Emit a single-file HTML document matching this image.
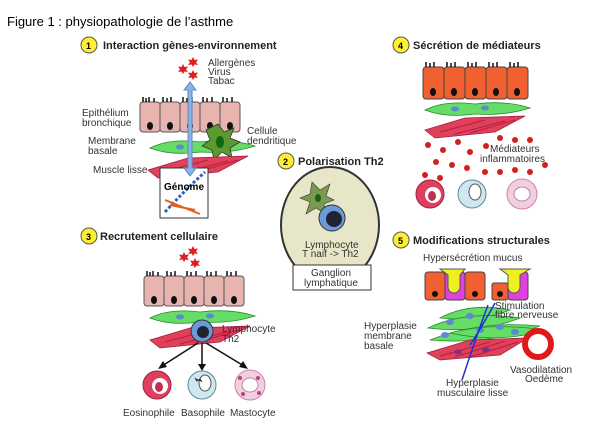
<!DOCTYPE html>
<html><head><meta charset="utf-8"><style>
html,body{margin:0;padding:0;background:#fff;width:601px;height:425px;overflow:hidden;}
svg{display:block;font-family:"Liberation Sans",sans-serif;}
.t{font-size:10px;fill:#333;}
.b{font-size:11px;font-weight:bold;fill:#222;}
</style></head><body>
<svg width="601" height="425" viewBox="0 0 601 425" xmlns="http://www.w3.org/2000/svg">
<defs>
<g id="star"><polygon points="0,-5 1.5,-2 5,-2.5 3,0.5 5,3 1.5,2.5 0,5 -1.5,2.5 -5,3 -3,0.5 -5,-2.5 -1.5,-2" fill="#e02020"/></g>
<g id="epi">
 <g fill="#e8b4b0" stroke="#555" stroke-width="1">
  <rect x="0" y="0" width="20" height="30" rx="3"/><rect x="20" y="0" width="20" height="30" rx="3"/><rect x="40" y="0" width="20" height="30" rx="3"/><rect x="60" y="0" width="20" height="30" rx="3"/><rect x="80" y="0" width="20" height="30" rx="3"/>
 </g>
 <g fill="#111"><ellipse cx="10" cy="24" rx="3" ry="4"/><ellipse cx="30" cy="24" rx="3" ry="4"/><ellipse cx="50" cy="24" rx="3" ry="4"/><ellipse cx="70" cy="24" rx="3" ry="4"/><ellipse cx="90" cy="24" rx="3" ry="4"/></g>
 <g stroke="#111" stroke-width="1.5"><path d="M3 0v-5M6 0v-4M9 0v-5M14 0v-4M23 0v-5M27 0v-4M31 0v-5M43 0v-5M47 0v-4M52 0v-5M63 0v-5M67 0v-4M72 0v-5M83 0v-5M87 0v-4M92 0v-5"/></g>
</g>
<g id="green"><path d="M0 8 Q20 -2 50 2 Q80 -2 105 6 Q80 14 50 12 Q20 16 0 8Z" fill="#66dd66" stroke="#2a8a2a" stroke-width="0.8"/><ellipse cx="30" cy="7" rx="4" ry="2.5" fill="#5a8ad0"/><ellipse cx="60" cy="6" rx="4" ry="2.5" fill="#5a8ad0"/></g>
<g id="red"><path d="M0 14 L40 2 L100 0 L70 16 L10 22Z" fill="#e0405a" stroke="#a02040" stroke-width="0.8"/><path d="M15 16 L60 4 M30 18 L80 5 M45 17 L90 4" stroke="#b02040"/></g>
</defs>

<text x="7" y="26" style="font-size:13px;fill:#000">Figure 1 : physiopathologie de l’asthme</text>

<!-- Panel 1 -->
<circle cx="89" cy="45" r="8" fill="#ffef30" stroke="#555"/><text x="86" y="49" style="font-size:9px;font-weight:bold">1</text>
<text x="103" y="49" class="b">Interaction gènes-environnement</text>
<use href="#star" x="183" y="69"/><use href="#star" x="193" y="62"/><use href="#star" x="193" y="75"/>
<text x="208" y="66" class="t">Allergènes</text><text x="208" y="75" class="t">Virus</text><text x="208" y="84" class="t">Tabac</text>
<use href="#epi" x="140" y="102"/>
<use href="#green" x="150" y="140"/>
<polygon points="218,124 224,132 234,128 230,138 240,142 230,148 232,158 222,152 214,160 212,150 202,146 210,140 206,130" fill="#5a9a30" stroke="#333" stroke-width="0.8"/>
<ellipse cx="220" cy="142" rx="4" ry="6" fill="#116611"/>
<use href="#red" x="148" y="156"/>
<rect x="160" y="168" width="48" height="50" fill="#fff" stroke="#333"/>
<path d="M165 212 Q185 190 205 172" stroke="#3060c0" stroke-width="3" fill="none" stroke-dasharray="3 2"/>
<path d="M165 200 L200 214 M170 205 L195 210" stroke="#e06020" stroke-width="2"/>
<text x="164" y="190" style="font-size:10px;font-weight:bold">Génome</text>
<path d="M190 82 l-6 8 h4 v78 h-4 l6 8 l6 -8 h-4 v-78 h4z" fill="#8ab4e8" stroke="#5a8ac0"/>
<text x="82" y="116" class="t">Epithélium</text><text x="82" y="126" class="t">bronchique</text>
<text x="88" y="144" class="t">Membrane</text><text x="88" y="154" class="t">basale</text>
<text x="93" y="173" class="t">Muscle lisse</text>
<text x="247" y="134" class="t">Cellule</text><text x="247" y="144" class="t">dendritique</text>

<!-- Panel 2 -->
<circle cx="286" cy="161" r="8" fill="#ffef30" stroke="#555"/><text x="283" y="165" style="font-size:9px;font-weight:bold">2</text>
<text x="298" y="165" class="b">Polarisation Th2</text>
<ellipse cx="330" cy="225" rx="49" ry="58" fill="#e8e6c8" stroke="#333" stroke-width="2"/>
<polygon points="312,182 320,190 330,184 326,196 334,200 324,204 326,214 316,208 306,214 310,202 300,198 310,194" fill="#7a9a50" stroke="#333" stroke-width="0.6"/>
<ellipse cx="318" cy="198" rx="3" ry="4" fill="#116611"/>
<circle cx="332" cy="218" r="13" fill="#6a9ad8" stroke="#333"/><circle cx="334" cy="219" r="8" fill="#223"/>
<text x="305" y="248" class="t">Lymphocyte</text><text x="302" y="257" class="t">T naif -&gt; Th2</text>
<rect x="293" y="265" width="78" height="25" fill="#fff" stroke="#333"/>
<text x="311" y="276" class="t">Ganglion</text><text x="304" y="286" class="t">lymphatique</text>

<!-- Panel 3 -->
<circle cx="89" cy="236" r="8" fill="#ffef30" stroke="#555"/><text x="86" y="240" style="font-size:9px;font-weight:bold">3</text>
<text x="100" y="240" class="b">Recrutement cellulaire</text>
<use href="#star" x="184" y="257"/><use href="#star" x="193" y="251"/><use href="#star" x="195" y="263"/>
<use href="#epi" x="144" y="276"/>
<use href="#green" x="150" y="310"/>
<use href="#red" x="150" y="326"/>
<circle cx="202" cy="331" r="11" fill="#6a9ad8" stroke="#333"/><circle cx="203" cy="332" r="6" fill="#223"/>
<text x="222" y="332" class="t">Lymphocyte</text><text x="222" y="342" class="t">Th2</text>
<g stroke="#111" stroke-width="1.5"><path d="M198 343 L162 366 M202 343 L202 366 M206 343 L244 366"/></g>
<g fill="#111"><polygon points="158,369 163,361 167,367"/><polygon points="198,364 206,364 202,371"/><polygon points="248,369 239,367 243,361"/></g>
<circle cx="157" cy="385" r="14" fill="#e04060" stroke="#a02040"/><circle cx="160" cy="386" r="8" fill="#fff"/><ellipse cx="159" cy="387" rx="4" ry="5" fill="#c03050"/>
<circle cx="202" cy="385" r="14" fill="#cfe8f0" stroke="#5a8a9a"/><ellipse cx="205" cy="383" rx="6" ry="8" fill="#fff" stroke="#555"/><path d="M195 378 l2 3 l3 -2 l2 3" stroke="#333"/>
<circle cx="250" cy="385" r="15" fill="#f0d0e0" stroke="#d080a8"/><ellipse cx="250" cy="385" rx="8" ry="7" fill="#fff" stroke="#c080a0"/><g fill="#c04080"><circle cx="240" cy="378" r="2"/><circle cx="258" cy="378" r="2"/><circle cx="243" cy="394" r="2"/><circle cx="259" cy="393" r="2"/></g>
<text x="123" y="416" class="t">Eosinophile</text><text x="181" y="416" class="t">Basophile</text><text x="230" y="416" class="t">Mastocyte</text>

<!-- Panel 4 -->
<circle cx="401" cy="45" r="8" fill="#ffef30" stroke="#555"/><text x="398" y="49" style="font-size:9px;font-weight:bold">4</text>
<text x="413" y="49" class="b">Sécrétion de médiateurs</text>
<g fill="#f06030" stroke="#444"><rect x="423" y="67" width="21" height="32" rx="3"/><rect x="444" y="67" width="21" height="32" rx="3"/><rect x="465" y="67" width="21" height="32" rx="3"/><rect x="486" y="67" width="21" height="32" rx="3"/><rect x="507" y="67" width="21" height="32" rx="3"/></g>
<g fill="#111"><ellipse cx="433" cy="92" rx="3" ry="4"/><ellipse cx="454" cy="92" rx="3" ry="4"/><ellipse cx="475" cy="92" rx="3" ry="4"/><ellipse cx="496" cy="92" rx="3" ry="4"/><ellipse cx="517" cy="92" rx="3" ry="4"/></g>
<g stroke="#111" stroke-width="1.5"><path d="M426 67v-5M430 67v-4M434 67v-5M447 67v-5M451 67v-4M455 67v-5M468 67v-5M472 67v-4M476 67v-5M489 67v-5M493 67v-4M497 67v-5M510 67v-5M514 67v-4M518 67v-5"/></g>
<use href="#green" x="425" y="102"/>
<use href="#red" x="425" y="116"/>
<g fill="#d02020"><circle cx="428" cy="145" r="3"/><circle cx="443" cy="150" r="3"/><circle cx="458" cy="142" r="3"/><circle cx="470" cy="152" r="3"/><circle cx="436" cy="162" r="3"/><circle cx="452" cy="165" r="3"/><circle cx="467" cy="168" r="3"/><circle cx="486" cy="146" r="3"/><circle cx="500" cy="138" r="3"/><circle cx="515" cy="140" r="3"/><circle cx="425" cy="175" r="3"/><circle cx="485" cy="172" r="3"/><circle cx="500" cy="172" r="3"/><circle cx="515" cy="170" r="3"/><circle cx="530" cy="172" r="3"/><circle cx="545" cy="165" r="3"/><circle cx="440" cy="178" r="3"/><circle cx="530" cy="140" r="3"/></g>
<text x="490" y="152" class="t">Médiateurs</text><text x="480" y="162" class="t">inflammatoires</text>
<circle cx="430" cy="194" r="14" fill="#e04060" stroke="#a02040"/><circle cx="433" cy="195" r="8" fill="#fff"/><ellipse cx="432" cy="196" rx="4" ry="5" fill="#c03050"/>
<circle cx="472" cy="194" r="14" fill="#cfe8f0" stroke="#5a8a9a"/><ellipse cx="475" cy="192" rx="6" ry="8" fill="#fff" stroke="#555"/>
<circle cx="522" cy="194" r="15" fill="#f0d0e0" stroke="#d080a8"/><ellipse cx="522" cy="194" rx="8" ry="7" fill="#fff" stroke="#c080a0"/>

<!-- Panel 5 -->
<circle cx="401" cy="240" r="8" fill="#ffef30" stroke="#555"/><text x="398" y="244" style="font-size:9px;font-weight:bold">5</text>
<text x="413" y="244" class="b">Modifications structurales</text>
<text x="423" y="261" class="t">Hypersécrétion mucus</text>
<g stroke="#444"><rect x="425" y="272" width="20" height="28" rx="3" fill="#f06030"/><rect x="445" y="272" width="20" height="28" rx="3" fill="#e040e0"/><rect x="465" y="272" width="20" height="28" rx="3" fill="#f06030"/><rect x="492" y="283" width="16" height="17" rx="2" fill="#f06030"/><rect x="508" y="272" width="20" height="28" rx="3" fill="#e040e0"/></g>
<path d="M440 269 h25 l-5 6 v12 a6 6 0 0 1 -12 0 v-12z" fill="#f0f020" stroke="#555"/>
<path d="M500 269 h30 l-10 6 v12 a6 6 0 0 1 -12 0 v-12z" fill="#f0f020" stroke="#555"/>
<g fill="#111"><circle cx="435" cy="294" r="3"/><circle cx="475" cy="294" r="3"/><circle cx="500" cy="294" r="3"/></g>
<g fill="#66dd66" stroke="#2a8a2a" stroke-width="0.8">
<path d="M440 318 Q470 302 510 310 Q480 322 440 318Z"/>
<path d="M428 328 Q465 310 520 318 Q480 334 428 328Z"/>
<path d="M430 340 Q480 320 540 326 Q490 345 430 340Z"/>
<path d="M450 333 Q490 322 545 330 Q500 344 450 333Z"/>
</g>
<g fill="#5a8ad0"><ellipse cx="450" cy="322" rx="4" ry="3"/><ellipse cx="470" cy="316" rx="4" ry="3"/><ellipse cx="480" cy="330" rx="4" ry="3"/><ellipse cx="500" cy="327" rx="4" ry="3"/><ellipse cx="515" cy="332" rx="4" ry="3"/><ellipse cx="445" cy="335" rx="4" ry="3"/></g>
<path d="M427 353 L470 340 L528 338 L500 355 L440 360Z" fill="#e0405a" stroke="#a02040" stroke-width="0.8"/>
<path d="M440 356 L490 342 M455 357 L505 341 M470 357 L518 342" stroke="#b02040"/>
<g fill="#803080"><ellipse cx="458" cy="352" rx="4" ry="2.5"/><ellipse cx="486" cy="350" rx="4" ry="2.5"/></g>
<path d="M488 305 Q475 340 462 380 M495 303 Q480 330 470 345" stroke="#2030d0" stroke-width="1.5" fill="none"/>
<circle cx="538" cy="344" r="13" fill="none" stroke="#e01818" stroke-width="6"/>
<text x="495" y="309" class="t">Stimulation</text><text x="495" y="318" class="t">fibre nerveuse</text>
<text x="364" y="329" class="t">Hyperplasie</text><text x="364" y="339" class="t">membrane</text><text x="364" y="349" class="t">basale</text>
<text x="510" y="373" class="t">Vasodilatation</text><text x="525" y="382" class="t">Oedème</text>
<text x="446" y="386" class="t">Hyperplasie</text><text x="437" y="396" class="t">musculaire lisse</text>
</svg>
</body></html>
